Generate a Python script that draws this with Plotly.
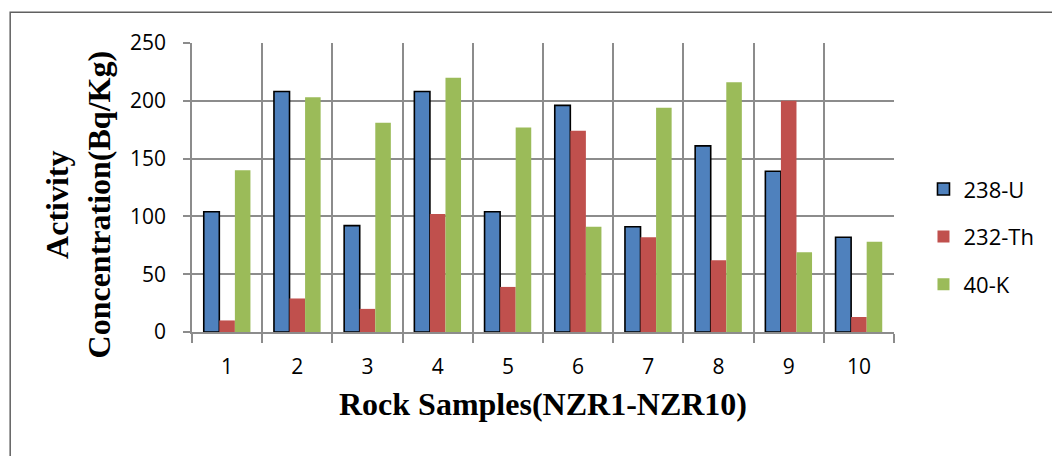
import plotly.graph_objects as go

# ---- data ----
samples = [1, 2, 3, 4, 5, 6, 7, 8, 9, 10]
sample_labels = ["1", "2", "3", "4", "5", "6", "7", "8", "9", "10"]
u238 = [104, 208, 92, 208, 104, 196, 91, 161, 139, 82]
th232 = [10, 29, 20, 102, 39, 174, 82, 62, 200, 13]
k40 = [140, 203, 181, 220, 177, 91, 194, 216, 69, 78]
y_ticks = [0, 50, 100, 150, 200, 250]

series_names = ["238-U", "232-Th", "40-K"]
series_values = [u238, th232, k40]
series_colors = ["#4F81BD", "#C0504D", "#9BBB59"]
series_line_w = [1.6, 0, 0]

GRID = "#8C8C8C"
TICK_FONT = dict(family="Open Sans", size=21, color="#000000")
LEG_FONT = dict(family="Open Sans", size=22, color="#000000")
TITLE_FONT = dict(family="Liberation Serif", size=32, color="#000000")

fig = go.Figure()
for name, vals, col, lw in zip(series_names, series_values, series_colors, series_line_w):
    fig.add_trace(go.Bar(
        x=samples, y=vals, name=name, legendgroup=name,
        marker=dict(color=col, line=dict(color="#000000", width=lw)),
    ))

fig.update_layout(
    width=1052, height=456,
    margin=dict(l=192, r=154, t=43, b=124),
    paper_bgcolor="white", plot_bgcolor="white",
    barmode="group", bargap=0.335, bargroupgap=0,
    legend=dict(
        x=1.042, y=0.33, xanchor="left", yanchor="middle",
        font=LEG_FONT, traceorder="grouped", tracegroupgap=16,
        bgcolor="rgba(0,0,0,0)",
    ),
    xaxis=dict(
        range=[0.5, 10.5], tickmode="array", tickvals=samples, ticktext=sample_labels,
        showgrid=False, ticks="", zeroline=False,
        showline=True, linecolor=GRID, linewidth=1.5,
        tickfont=TICK_FONT, ticklabelstandoff=15,
        minor=dict(tickmode="linear", tick0=0.5, dtick=1, ticks="outside",
                   ticklen=9, tickwidth=1.5, tickcolor=GRID,
                   showgrid=True, gridcolor=GRID, gridwidth=1.5),
        title=dict(text="<b>Rock Samples(NZR1-NZR10)</b>", font=TITLE_FONT, standoff=14),
    ),
    yaxis=dict(
        range=[0, 250], tickmode="array", tickvals=y_ticks,
        showgrid=True, gridcolor=GRID, gridwidth=1.5, zeroline=False,
        showline=True, linecolor=GRID, linewidth=1.5,
        ticks="outside", ticklen=7, tickwidth=1.5, tickcolor=GRID,
        tickfont=TICK_FONT, ticklabelstandoff=13,
    ),
    annotations=[dict(
        text="<b>Activity<br>Concentration(Bq/Kg)</b>", font=TITLE_FONT,
        xref="paper", yref="paper", x=-0.1625, y=0.441,
        xanchor="center", yanchor="middle", textangle=-90, showarrow=False,
    )],
    shapes=[dict(type="rect", xref="paper", yref="paper",
                 x0=-0.259, x1=1.4, y0=-0.6, y1=1.106,
                 line=dict(color="#606060", width=1.5), layer="below")],
)

fig.write_html("out.html")
